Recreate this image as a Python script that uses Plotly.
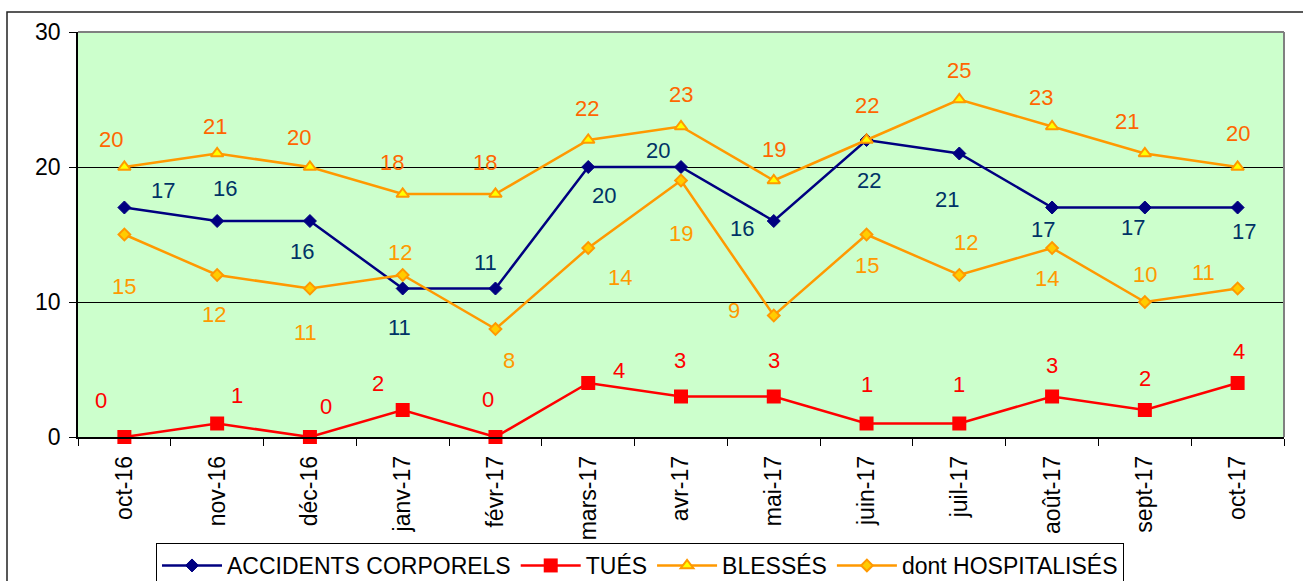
import plotly.graph_objects as go

months = ["oct-16", "nov-16", "déc-16", "janv-17", "févr-17", "mars-17", "avr-17",
          "mai-17", "juin-17", "juil-17", "août-17", "sept-17", "oct-17"]
accidents = [17, 16, 16, 11, 11, 20, 20, 16, 22, 21, 17, 17, 17]
tues = [0, 1, 0, 2, 0, 4, 3, 3, 1, 1, 3, 2, 4]
blesses = [20, 21, 20, 18, 18, 22, 23, 19, 22, 25, 23, 21, 20]
hospitalises = [15, 12, 11, 12, 8, 14, 19, 9, 15, 12, 14, 10, 11]

# label pixel offsets (dx right, dy down) relative to each point
acc_off = [(39, -17), (8, -33), (-8, 30), (-3, 39), (-10, -26), (16, 28), (-23, -17),
           (-32, 7), (2, 40), (-12, 46), (-9, 22), (-12, 20), (6, 24)]
tues_off = [(-23, -37), (20, -28), (16, -31), (-25, -27), (-7, -38), (31, -13), (-1, -36),
            (0, -36), (0, -39), (0, -39), (0, -31), (0, -32), (1, -32)]
bles_off = [(-13, -28), (-2, -27), (-11, -30), (-11, -32), (-10, -32), (-1, -32), (0, -32),
            (0, -31), (0, -35), (0, -29), (-11, -29), (-18, -32), (0, -34)]
hosp_off = [(0, 52), (-3, 39), (-4, 44), (-3, -23), (14, 31), (32, 29), (0, 53),
            (-40, -5), (0, 31), (7, -33), (-5, 30), (0, -28), (-34, -16)]

FONT = "Arial, 'Liberation Sans', sans-serif"
FS = 22
TFS = 23

fig = go.Figure()
fig.add_trace(go.Scatter(x=months, y=accidents, name="ACCIDENTS CORPORELS", mode="lines+markers",
                         line=dict(color="#000080", width=2.5),
                         marker=dict(symbol="diamond", size=10, color="#000080",
                                     line=dict(color="#000080", width=1))))
fig.add_trace(go.Scatter(x=months, y=tues, name="TUÉS", mode="lines+markers",
                         line=dict(color="#FF0000", width=2.5),
                         marker=dict(symbol="square", size=14, color="#FF0000", line=dict(width=0)),
                         cliponaxis=False))
fig.add_trace(go.Scatter(x=months, y=blesses, name="BLESSÉS", mode="lines+markers",
                         line=dict(color="#FF9900", width=2.5),
                         marker=dict(symbol="triangle-up", size=11, color="#FFFF00",
                                     line=dict(color="#FF9900", width=2))))
fig.add_trace(go.Scatter(x=months, y=hospitalises, name="dont HOSPITALISÉS", mode="lines+markers",
                         line=dict(color="#FF9900", width=2.5),
                         marker=dict(symbol="diamond", size=9, color="#FFCC00",
                                     line=dict(color="#FF9900", width=2))))

annotations = []
for vals, offs, col in [(accidents, acc_off, "#003366"), (tues, tues_off, "#FF0000"),
                        (blesses, bles_off, "#FF6600"), (hospitalises, hosp_off, "#FF9900")]:
    for m, v, (dx, dy) in zip(months, vals, offs):
        annotations.append(dict(x=m, y=v, xref="x", yref="y", text=str(v), showarrow=False,
                                xshift=dx, yshift=-dy,
                                font=dict(family=FONT, size=FS, color=col)))

L, R, T, B = 78, 19, 32, 144
W, H = 1303, 581
pw, ph = W - L - R, H - T - B

shapes = [
    dict(type="line", xref="paper", yref="paper", x0=0, x1=1, y0=1, y1=1,
         line=dict(color="#808080", width=2)),
    dict(type="line", xref="paper", yref="paper", x0=1, x1=1, y0=0, y1=1,
         line=dict(color="#808080", width=2)),
    dict(type="rect", xref="paper", yref="paper",
         x0=(7 - L) / pw, x1=(W + 5 - L) / pw,
         y0=(T + ph - (H + 5)) / ph, y1=(T + ph - 12) / ph,
         line=dict(color="#222222", width=1.5), fillcolor="rgba(0,0,0,0)", layer="below"),
]

fig.update_layout(
    width=W, height=H,
    margin=dict(l=L, r=R, t=T, b=B, autoexpand=False),
    paper_bgcolor="white", plot_bgcolor="#CCFFCC",
    font=dict(family=FONT, size=FS, color="black"),
    showlegend=True,
    legend=dict(orientation="h", x=(640 - L) / pw, xanchor="center",
                y=(T + ph - 543) / ph, yanchor="top",
                bgcolor="white", bordercolor="black", borderwidth=1,
                font=dict(family=FONT, size=TFS, color="black"),
                itemwidth=60, tracegroupgap=0),
    xaxis=dict(type="category", showgrid=False, showline=True, linecolor="black", linewidth=1.5,
               ticks="outside", tickson="boundaries", ticklen=7, tickcolor="black",
               tickangle=-90, tickfont=dict(family=FONT, size=TFS, color="black"),
               ticklabelstandoff=8,
               range=[-0.5, 12.5], zeroline=False),
    yaxis=dict(range=[0, 30], tickvals=[0, 10, 20, 30], showgrid=True, gridcolor="black",
               gridwidth=1, showline=True, linecolor="black", linewidth=1.5,
               ticks="outside", ticklen=7, tickcolor="black", zeroline=False,
               ticklabelstandoff=4,
               tickfont=dict(family=FONT, size=TFS, color="black")),
    annotations=annotations,
    shapes=shapes,
)

fig.write_html("out.html", config={"displayModeBar": False},
               post_script="document.body.style.margin='0';document.body.style.overflow='hidden';")
